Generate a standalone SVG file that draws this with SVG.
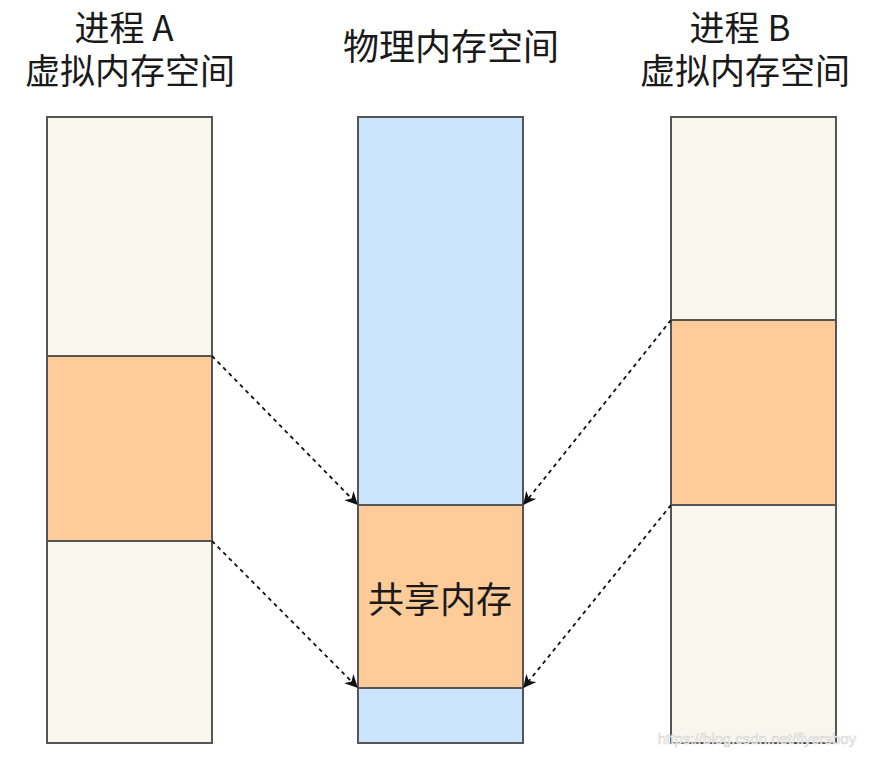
<svg xmlns="http://www.w3.org/2000/svg" width="871" height="757" viewBox="0 0 871 757">
<style>
.t{font-family:"Noto Sans CJK SC","Liberation Sans",sans-serif;font-size:36px;fill:#1a1a1a;text-anchor:middle}
.h{font-size:35px}
.v{fill:#f9f7ed;stroke:#555;stroke-width:2}
.o{fill:#ffcc99;stroke:#555;stroke-width:2}
.p{fill:#cce5ff;stroke:#555;stroke-width:2}
.c{fill:none;stroke:#111;stroke-width:1.8;stroke-dasharray:4 4}
</style>
<defs>
<marker id="a" viewBox="0 0 10 10" refX="9" refY="5" markerWidth="13" markerHeight="13" markerUnits="userSpaceOnUse" orient="auto">
<path d="M0,0 L10,5 L0,10 L3,5 Z" fill="#111"/>
</marker>
</defs>
<rect width="871" height="757" fill="#fff"/>
<g id="title-a"><text class="t h"><tspan x="124" y="41">进程 A</tspan><tspan x="130" y="84">虚拟内存空间</tspan></text></g>
<g id="title-phys"><text class="t" x="451" y="60">物理内存空间</text></g>
<g id="title-b"><text class="t h"><tspan x="740" y="41">进程 B</tspan><tspan x="745" y="84">虚拟内存空间</tspan></text></g>
<g id="proc-a">
<rect class="v" x="47" y="117" width="165" height="239"/>
<rect class="o" x="47" y="356" width="165" height="185"/>
<rect class="v" x="47" y="541" width="165" height="202"/>
</g>
<g id="phys">
<rect class="p" x="358" y="117" width="165" height="388"/>
<rect class="o" x="358" y="505" width="165" height="183"/>
<rect class="p" x="358" y="688" width="165" height="55"/>
<text class="t" x="440" y="613">共享内存</text>
</g>
<g id="proc-b">
<rect class="v" x="671" y="117" width="165" height="203"/>
<rect class="o" x="671" y="320" width="165" height="185"/>
<rect class="v" x="671" y="505" width="165" height="238"/>
</g>
<g id="connectors">
<line class="c" x1="212" y1="356" x2="357" y2="504" marker-end="url(#a)"/>
<line class="c" x1="212" y1="541" x2="357" y2="687" marker-end="url(#a)"/>
<line class="c" x1="671" y1="320" x2="524" y2="504" marker-end="url(#a)"/>
<line class="c" x1="671" y1="505" x2="524" y2="687" marker-end="url(#a)"/>
</g>
<text x="757" y="744" font-family="Liberation Sans,sans-serif" font-size="15" fill="#ffffff" stroke="#d0d0d0" stroke-width="0.6" text-anchor="middle">https://blog.csdn.net/flyersboy</text>
</svg>
